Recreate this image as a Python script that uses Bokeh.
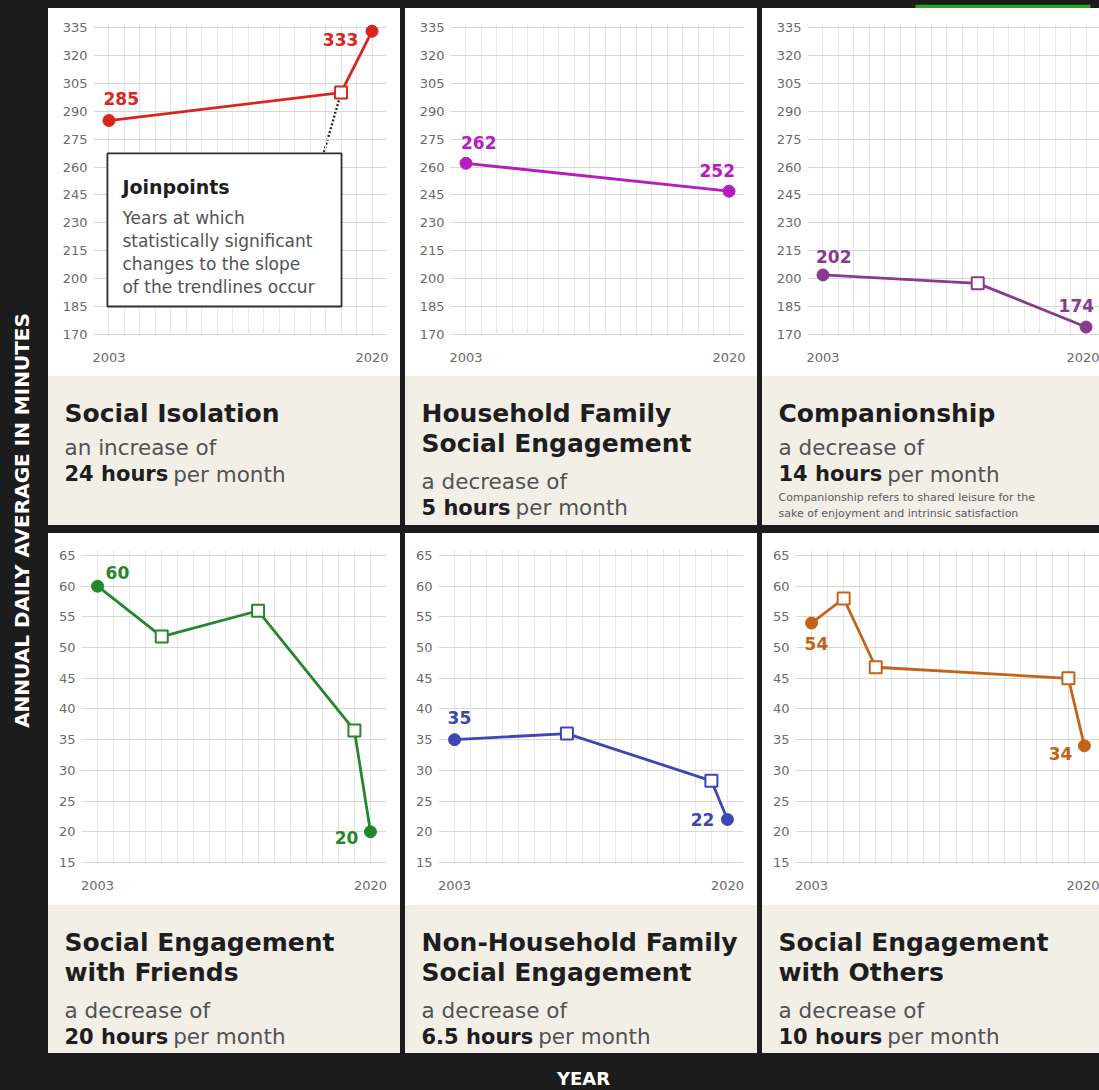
import math
from bokeh.plotting import figure
from bokeh.models import (Range1d, FixedTicker, Label, BoxAnnotation, Row, Column, Plot,
                          GlobalInlineStyleSheet)
from bokeh.embed import file_html
from bokeh.resources import INLINE

# ---------------- data ----------------
x_tick_years = [2003, 2020]
grid_years = list(range(2002, 2022))
top_y_ticks = [170, 185, 200, 215, 230, 245, 260, 275, 290, 305, 320, 335]
bottom_y_ticks = [15, 20, 25, 30, 35, 40, 45, 50, 55, 60, 65]

iso_years = [2003, 2018, 2020]
iso_minutes = [285, 300, 333]
iso_labels = ["285", "333"]

hh_years = [2003, 2020]
hh_minutes = [262, 247]
hh_labels = ["262", "252"]

comp_years = [2003, 2013, 2020]
comp_minutes = [202, 197.5, 174]
comp_labels = ["202", "174"]

fr_years = [2003, 2007, 2013, 2019, 2020]
fr_minutes = [60, 51.8, 56, 36.5, 20]
fr_labels = ["60", "20"]

nh_years = [2003, 2010, 2019, 2020]
nh_minutes = [35, 36, 28.3, 22]
nh_labels = ["35", "22"]

oth_years = [2003, 2005, 2007, 2019, 2020]
oth_minutes = [54, 58, 46.8, 45, 34]
oth_labels = ["54", "34"]

titles = [
    ["Social Isolation"],
    ["Household Family", "Social Engagement"],
    ["Companionship"],
    ["Social Engagement", "with Friends"],
    ["Non-Household Family", "Social Engagement"],
    ["Social Engagement", "with Others"],
]
change_words = ["an increase of", "a decrease of", "a decrease of",
                "a decrease of", "a decrease of", "a decrease of"]
amounts = ["24 hours", "5 hours", "14 hours", "20 hours", "6.5 hours", "10 hours"]
per_text = "per month"
comp_note = ["Companionship refers to shared leisure for the",
             "sake of enjoyment and intrinsic satisfaction"]
joinpoint_title = "Joinpoints"
joinpoint_body = ["Years at which", "statistically significant",
                  "changes to the slope", "of the trendlines occur"]
y_title = "ANNUAL DAILY AVERAGE IN MINUTES"
x_title = "YEAR"

colors = ["#d9261c", "#b61cc0", "#8a3a8c", "#25862e", "#3d46b5", "#c46218"]

# ---------------- style ----------------
FONT = "DejaVu Sans"
DARK = "#1c1c1c"
BEIGE = "#f2efe7"
GREEN_BAR = "#22a822"
TITLE_C = "#1e1e1e"
SUB_C = "#525252"

NO_ALIGN = {"frame_align": False} if "frame_align" in Plot.properties() else {}

BOLD_ADV = {**{d: 0.696 for d in "0123456789"}, ".": 0.380, " ": 0.348,
            "h": 0.712, "o": 0.687, "u": 0.712, "r": 0.493, "s": 0.595}


def bold_width(s, size):
    return sum(BOLD_ADV.get(c, 0.65) for c in s) * size


def make_chart(years, vals, color, labels, offsets, w, h, xr, yr, borders, yticks, xstand):
    p = figure(width=w, height=h, x_range=Range1d(*xr), y_range=Range1d(*yr),
               toolbar_location=None, output_backend="svg",
               min_border_left=borders[0], min_border_right=borders[1],
               min_border_top=borders[2], min_border_bottom=borders[3],
               background_fill_color="white", border_fill_color="white",
               outline_line_color=None, styles={"background-color": "white"}, **NO_ALIGN)
    p.xaxis.ticker = FixedTicker(ticks=x_tick_years)
    p.yaxis.ticker = FixedTicker(ticks=yticks)
    p.xgrid.ticker = FixedTicker(ticks=grid_years)
    p.ygrid.ticker = FixedTicker(ticks=yticks)
    for ax in p.axis:
        ax.axis_line_color = None
        ax.major_tick_line_color = None
        ax.minor_tick_line_color = None
        ax.major_tick_in = 0
        ax.major_tick_out = 0
        ax.major_label_text_font = FONT
        ax.major_label_text_font_size = "13px"
        ax.major_label_text_color = "#6a6a6a"
    p.xaxis.major_label_standoff = xstand
    p.yaxis.major_label_standoff = 6
    p.xgrid.grid_line_color = "#e6e6e6"
    p.ygrid.grid_line_color = "#d8d8d8"
    p.grid.grid_line_width = 1
    p.line(years, vals, line_color=color, line_width=2.8)
    p.scatter([years[0], years[-1]], [vals[0], vals[-1]], marker="circle", size=12,
              fill_color=color, line_color=color)
    if len(years) > 2:
        p.scatter(years[1:-1], vals[1:-1], marker="square", size=12,
                  fill_color="white", line_color=color, line_width=2)
    pts = [(years[0], vals[0]), (years[-1], vals[-1])]
    for (xv, yv), txt, (dx, dy, al) in zip(pts, labels, offsets):
        p.add_layout(Label(x=xv, y=yv, x_offset=dx, y_offset=dy, text=txt,
                           text_align=al, text_baseline="middle", text_font=FONT,
                           text_font_size="17px", text_font_style="bold",
                           text_color=color))
    return p


def make_text(w, h, title_lines, change, amount, two_line, note=None):
    f = figure(width=w, height=h, x_range=Range1d(0, w), y_range=Range1d(0, h),
               x_axis_type=None, y_axis_type=None, toolbar_location=None,
               output_backend="svg", min_border=0, background_fill_color=BEIGE,
               border_fill_color=BEIGE, outline_line_color=None,
               styles={"background-color": BEIGE}, **NO_ALIGN)
    if two_line:
        base = [37.3, 66.5, 104.5, 131.2]
    else:
        base = [37.3, 71.3, 97.8]
    lx = 16
    for i, t in enumerate(title_lines):
        f.add_layout(Label(x=lx, y=h - base[i], text=t, text_font=FONT,
                           text_font_size="25px", text_font_style="bold",
                           text_color=TITLE_C, text_baseline="alphabetic"))
    n = len(title_lines)
    f.add_layout(Label(x=lx, y=h - base[n], text=change, text_font=FONT,
                       text_font_size="21.5px", text_color=SUB_C,
                       text_baseline="alphabetic"))
    f.add_layout(Label(x=lx, y=h - base[n + 1], text=amount, text_font=FONT,
                       text_font_size="21px", text_font_style="bold",
                       text_color=TITLE_C, text_baseline="alphabetic"))
    f.add_layout(Label(x=lx + bold_width(amount, 21) + 5, y=h - base[n + 1],
                       text=per_text, text_font=FONT, text_font_size="21.5px",
                       text_color=SUB_C, text_baseline="alphabetic"))
    if note:
        for j, line in enumerate(note):
            f.add_layout(Label(x=lx, y=h - (120.7 + 16 * j), text=line,
                               text_font=FONT, text_font_size="11px",
                               text_color="#5a5a5a", text_baseline="alphabetic"))
    return f


# ---------------- geometry ----------------
LEFT_W = 48
W1, W2, W3 = 352, 352, 337
GAP = 5
TOP_STRIP = 8
ROW_GAP = 8
TOP_H, TOP_TH = 368, 149
BOT_H, BOT_TH = 372, 148
TOTAL_H = 1090
RIGHT_W = W1 + W2 + W3 + 2 * GAP
YEAR_H = TOTAL_H - TOP_STRIP - (TOP_H + TOP_TH) - ROW_GAP - (BOT_H + BOT_TH)

top_yr = (169.46, 337.15)
bot_yr = (14.67, 65.98)

p1 = make_chart(iso_years, iso_minutes, colors[0], iso_labels,
                [(-5.5, 22, "left"), (-13.7, -8.3, "right")],
                W1, TOP_H, (2002, 2021), top_yr, (45, 13, 15, 41), top_y_ticks, 17)
p2 = make_chart(hh_years, hh_minutes, colors[1], hh_labels,
                [(-5, 21, "left"), (6, 20.7, "right")],
                W2, TOP_H, (2002, 2021), top_yr, (45, 13, 15, 41), top_y_ticks, 17)
p3 = make_chart(comp_years, comp_minutes, colors[2], comp_labels,
                [(-7, 18.2, "left"), (8, 21.6, "right")],
                W3, TOP_H, (2002, 2020.87), top_yr, (45, 0, 15, 41), top_y_ticks, 17)
p4 = make_chart(fr_years, fr_minutes, colors[3], fr_labels,
                [(8, 14, "left"), (-12, -5.4, "right")],
                W1, BOT_H, (2002, 2021), bot_yr, (33, 14, 16, 41), bottom_y_ticks, 16)
p5 = make_chart(nh_years, nh_minutes, colors[4], nh_labels,
                [(-7, 22.5, "left"), (-13, 0, "right")],
                W2, BOT_H, (2002, 2021), bot_yr, (33, 14, 16, 41), bottom_y_ticks, 16)
p6 = make_chart(oth_years, oth_minutes, colors[5], oth_labels,
                [(-7, -20.8, "left"), (-12, -7.2, "right")],
                W3, BOT_H, (2002, 2020.94), bot_yr, (33, 0, 16, 41), bottom_y_ticks, 16)

# joinpoint explanation box on the first chart
box_l, box_r, box_b, box_t = 2002.9, 2018.03, 185.05, 267.3
p1.segment(x0=[iso_years[1]], y0=[iso_minutes[1]], x1=[2016.87], y1=[box_t],
           line_color="#2a2a2a", line_width=2.4, line_dash="2 2", level="underlay")
p1.add_layout(BoxAnnotation(left=box_l, right=box_r, bottom=box_b, top=box_t,
                            fill_color="white", fill_alpha=1.0,
                            line_color="#2e2e2e", line_alpha=1.0, line_width=1.8))
p1.add_layout(Label(x=box_l, y=box_t, x_offset=15, y_offset=-33.7, text=joinpoint_title,
                    text_font=FONT, text_font_size="19px", text_font_style="bold",
                    text_color=TITLE_C, text_baseline="alphabetic"))
for k, line in enumerate(joinpoint_body):
    p1.add_layout(Label(x=box_l, y=box_t, x_offset=15, y_offset=-(64.3 + 23.1 * k),
                        text=line, text_font=FONT, text_font_size="17px",
                        text_color=SUB_C, text_baseline="alphabetic"))

t1 = make_text(W1, TOP_TH, titles[0], change_words[0], amounts[0], False)
t2 = make_text(W2, TOP_TH, titles[1], change_words[1], amounts[1], True)
t3 = make_text(W3, TOP_TH, titles[2], change_words[2], amounts[2], False, comp_note)
t4 = make_text(W1, BOT_TH, titles[3], change_words[3], amounts[3], True)
t5 = make_text(W2, BOT_TH, titles[4], change_words[4], amounts[4], True)
t6 = make_text(W3, BOT_TH, titles[5], change_words[5], amounts[5], True)

bg = {"background-color": DARK}


def panel(c, t):
    return Column(children=[c, Column(children=[t], spacing=0)], spacing=0, styles=bg)


def strip(w, h):
    f = figure(width=w, height=h, x_range=Range1d(0, w), y_range=Range1d(0, h),
               x_axis_type=None, y_axis_type=None, toolbar_location=None,
               output_backend="svg", min_border=0, background_fill_color=DARK,
               border_fill_color=DARK, outline_line_color=None, styles=bg, **NO_ALIGN)
    return f


top_row = Row(children=[panel(p1, t1), panel(p2, t2), panel(p3, t3)], spacing=GAP, styles=bg)
bot_row = Row(children=[panel(p4, t4), panel(p5, t5), panel(p6, t6)], spacing=GAP, styles=bg)

top_fig = strip(RIGHT_W, TOP_STRIP)
top_fig.add_layout(BoxAnnotation(left=867, right=1042, bottom=3, top=TOP_STRIP,
                                 fill_color=GREEN_BAR, fill_alpha=1.0, line_color=None))

year_fig = strip(RIGHT_W, YEAR_H)
year_fig.add_layout(Label(x=535, y=YEAR_H - 25, text=x_title, text_align="center",
                          text_baseline="middle", text_font=FONT, text_font_size="18px",
                          text_font_style="bold", text_color="white"))

left_fig = strip(LEFT_W, TOTAL_H)
left_fig.add_layout(Label(x=21, y=TOTAL_H - 520, text=y_title, angle=math.pi / 2,
                          text_align="center", text_baseline="middle", text_font=FONT,
                          text_font_size="20px", text_font_style="bold",
                          text_color="white"))

grid_block = Column(children=[top_row, bot_row], spacing=ROW_GAP, styles=bg)
right = Column(children=[top_fig, grid_block, year_fig], spacing=0, styles=bg)
root = Row(children=[left_fig, right], spacing=0, styles=bg,
           stylesheets=[GlobalInlineStyleSheet(css="html, body { background-color: #1c1c1c; }")])

open("out.html", "w").write(file_html(root, INLINE))
